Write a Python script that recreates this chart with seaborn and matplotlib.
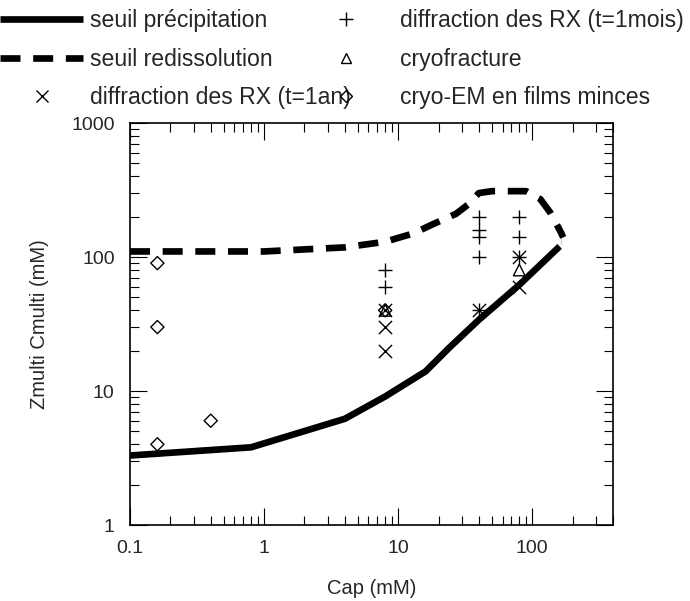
import matplotlib
matplotlib.use("Agg")
import matplotlib.pyplot as plt
from matplotlib.lines import Line2D
from matplotlib.ticker import LogLocator, FixedLocator, NullFormatter
import seaborn as sns
import pandas as pd

# seuil de précipitation (trait plein)
precip_cap = [0.1, 0.8, 4, 8, 16, 24, 40, 80, 160]
precip_z = [3.3, 3.8, 6.2, 9.1, 14, 21, 34, 62, 120]

# seuil de redissolution (tirets)
redis_cap = [0.1, 1, 4, 8, 13, 18, 27, 33, 40, 50, 90, 115, 136, 165, 170, 165]
redis_z = [110, 110, 118, 130, 150, 175, 210, 245, 300, 310, 310, 270, 215, 175, 140, 125]

# points expérimentaux
rx_mois_cap = [8, 8, 40, 40, 40, 40, 40, 80, 80, 80]
rx_mois_z = [80, 60, 200, 160, 140, 100, 40, 200, 140, 100]

rx_an_cap = [8, 8, 8, 40, 80, 80]
rx_an_z = [40, 30, 20, 40, 100, 60]

cryofrac_cap = [8, 80]
cryofrac_z = [40, 80]

cryoem_cap = [0.16, 0.16, 0.16, 0.4, 8]
cryoem_z = [90, 30, 4, 6, 40]

x_ticks = [0.1, 1, 10, 100]
x_labels = ["0.1", "1", "10", "100"]
y_ticks = [1, 10, 100, 1000]
y_labels = ["1", "10", "100", "1000"]


def main():
    sns.set_theme(style="ticks")
    plt.rcParams["font.family"] = ["Liberation Sans", "DejaVu Sans"]

    fig = plt.figure(figsize=(6.9, 6.01), dpi=100)
    ax = fig.add_axes([130 / 690, 1 - 525 / 601, 483 / 690, 402 / 601])

    df_p = pd.DataFrame({"cap": precip_cap, "z": precip_z})
    df_r = pd.DataFrame({"cap": redis_cap, "z": redis_z})
    sns.lineplot(data=df_p, x="cap", y="z", sort=False, color="black", lw=4.8,
                 ax=ax, solid_capstyle="butt")
    sns.lineplot(data=df_r, x="cap", y="z", sort=False, color="black", lw=4.8,
                 ax=ax, dashes=False)
    ax.lines[-1].set_dashes((3.0, 1.9))
    ax.lines[-1].set_dash_capstyle("butt")

    sns.scatterplot(x=rx_mois_cap, y=rx_mois_z, marker="+", s=110, color="black",
                    linewidth=1, ax=ax)
    sns.scatterplot(x=rx_an_cap, y=rx_an_z, marker="x", s=90, color="black",
                    linewidth=1, ax=ax)
    sns.scatterplot(x=cryofrac_cap, y=cryofrac_z, marker="^", s=70, facecolor="none",
                    edgecolor="black", linewidth=1, ax=ax)
    sns.scatterplot(x=cryoem_cap, y=cryoem_z, marker="D", s=45, facecolor="none",
                    edgecolor="black", linewidth=1, ax=ax)

    ax.set_xscale("log")
    ax.set_yscale("log")
    ax.set_xlim(0.1, 400)
    ax.set_ylim(1, 1000)

    ax.xaxis.set_major_locator(FixedLocator(x_ticks))
    ax.set_xticklabels(x_labels)
    ax.yaxis.set_major_locator(FixedLocator(y_ticks))
    ax.set_yticklabels(y_labels)
    ax.xaxis.set_minor_locator(LogLocator(base=10, subs=range(2, 10), numticks=20))
    ax.yaxis.set_minor_locator(LogLocator(base=10, subs=range(2, 10), numticks=20))
    ax.xaxis.set_minor_formatter(NullFormatter())
    ax.yaxis.set_minor_formatter(NullFormatter())

    ax.tick_params(which="both", direction="in", top=True, right=True, color="black",
                   width=0.8)
    ax.tick_params(which="major", length=12, labelsize=14, pad=11)
    ax.tick_params(which="minor", length=6.5)
    for sp in ax.spines.values():
        sp.set_linewidth(1.2)
        sp.set_color("black")

    ax.set_xlabel("Cap (mM)", fontsize=14.5, labelpad=16)
    ax.set_ylabel("Zmulti Cmulti (mM)", fontsize=14.5, labelpad=16)

    # légende en deux blocs au-dessus du graphe
    h1 = [Line2D([], [], color="black", lw=4.8, solid_capstyle="butt"),
          Line2D([], [], color="black", lw=4.8, dashes=(3.0, 1.9), dash_capstyle="butt"),
          Line2D([], [], ls="none", marker="x", ms=9, mew=1, color="black")]
    l1 = ["seuil précipitation", "seuil redissolution", "diffraction des RX (t=1an)"]
    h2 = [Line2D([], [], ls="none", marker="+", ms=10, mew=1, color="black"),
          Line2D([], [], ls="none", marker="^", ms=7, mew=1, mfc="none", color="black"),
          Line2D([], [], ls="none", marker="D", ms=6, mew=1, mfc="none", color="black")]
    l2 = ["diffraction des RX (t=1mois)", "cryofracture", "cryo-EM en films minces"]

    leg_kw = dict(loc="upper left", frameon=False, fontsize=16.6, borderpad=0,
                  borderaxespad=0, handlelength=3.6, labelspacing=0.68)
    fig.legend(h1, l1, bbox_to_anchor=(0.0, 1 - 9 / 601), handletextpad=0.3, **leg_kw)
    fig.legend(h2, l2, bbox_to_anchor=(304 / 690, 1 - 9 / 601), handletextpad=0.55,
               **leg_kw)

    fig.savefig("out.png", dpi=100)


if __name__ == "__main__":
    main()
